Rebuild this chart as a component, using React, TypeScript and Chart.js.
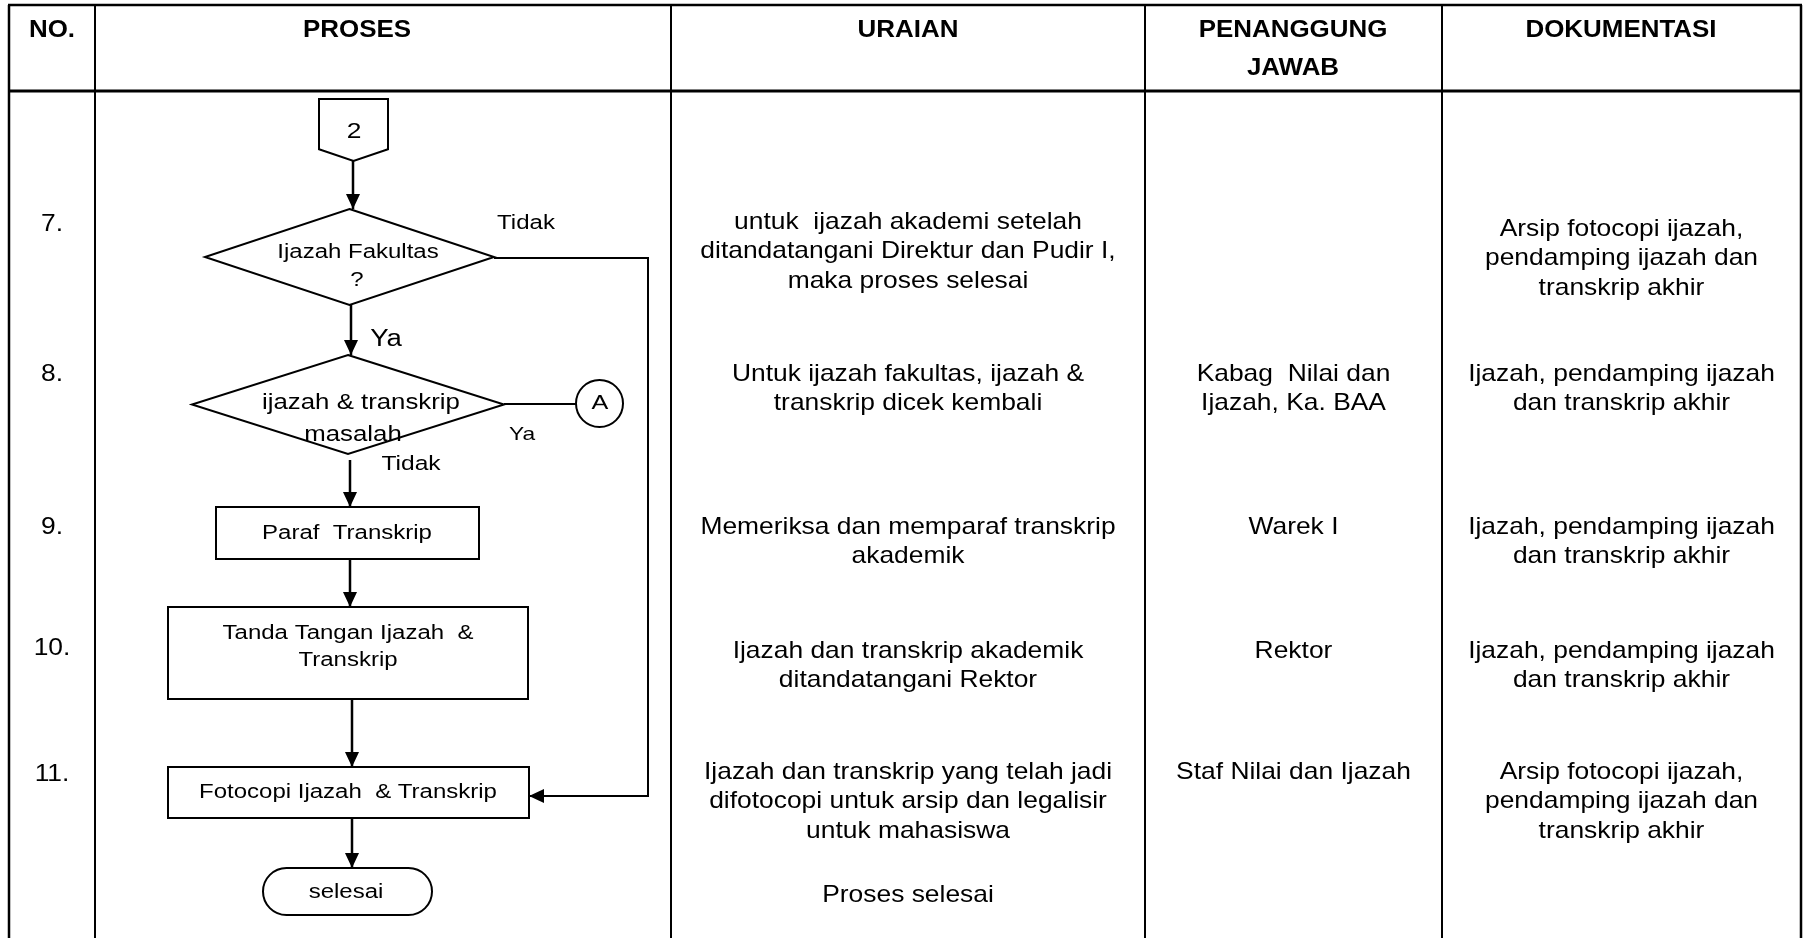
import React, { useEffect, useRef } from "react";
import { Chart, registerables } from "chart.js";

Chart.register(...registerables);

// ---------- page / layout space (layout units) ----------
const PAGE_W = 1804;
const PAGE_H = 938;
const FONT = '"Liberation Sans", Arial, Helvetica, sans-serif';

// ---------- table ----------
const columnEdges = [9, 95, 671, 1145, 1442, 1801];
const headerTop = 5;
const headerBottom = 91;
const tableBottom = 938;

const headerLabels = [["NO."], ["PROSES"], ["URAIAN"], ["PENANGGUNG", "JAWAB"], ["DOKUMENTASI"]];
const headerX = [52, 357, 908, 1293, 1621];
const headerY = 30;
const headerLineGap = 38;
const headerSize = 24;
const headerStretch = 1.08;

const rowNumbers = ["7.", "8.", "9.", "10.", "11."];
const rowNumberY = [224, 374, 527, 648, 774];

const uraianLines = [
  ["untuk  ijazah akademi setelah", "ditandatangani Direktur dan Pudir I,", "maka proses selesai"],
  ["Untuk ijazah fakultas, ijazah &", "transkrip dicek kembali"],
  ["Memeriksa dan memparaf transkrip", "akademik"],
  ["Ijazah dan transkrip akademik", "ditandatangani Rektor"],
  ["Ijazah dan transkrip yang telah jadi", "difotocopi untuk arsip dan legalisir", "untuk mahasiswa"],
  ["Proses selesai"],
];
const uraianY = [222, 374, 527, 651, 772, 895];

const penanggungLines = [
  [] as string[],
  ["Kabag  Nilai dan", "Ijazah, Ka. BAA"],
  ["Warek I"],
  ["Rektor"],
  ["Staf Nilai dan Ijazah"],
];
const penanggungY = [222, 374, 527, 651, 772];

const dokumentasiLines = [
  ["Arsip fotocopi ijazah,", "pendamping ijazah dan", "transkrip akhir"],
  ["Ijazah, pendamping ijazah", "dan transkrip akhir"],
  ["Ijazah, pendamping ijazah", "dan transkrip akhir"],
  ["Ijazah, pendamping ijazah", "dan transkrip akhir"],
  ["Arsip fotocopi ijazah,", "pendamping ijazah dan", "transkrip akhir"],
];
const dokumentasiY = [229, 374, 527, 651, 772];
const bodyLineGap = 29.5;
const bodySize = 24;
const bodyStretch = 1.1;
const flowStretch = 1.2;

// ---------- flowchart ----------
type FlowNode = {
  kind: "offpage" | "diamond" | "circle" | "rect" | "terminator";
  x1: number; y1: number; x2: number; y2: number;
  lines: string[]; tx: number[]; ty: number; gap: number; size: number;
};
const flowNodes: FlowNode[] = [
  { kind: "offpage", x1: 319, y1: 99, x2: 388, y2: 161, lines: ["2"], tx: [354], ty: 132, gap: 0, size: 22 },
  { kind: "diamond", x1: 205, y1: 209, x2: 494, y2: 305, lines: ["Ijazah Fakultas", "?"], tx: [358, 357], ty: 252, gap: 28, size: 20 },
  { kind: "diamond", x1: 192, y1: 355, x2: 504, y2: 454, lines: ["ijazah & transkrip", "masalah"], tx: [361, 353], ty: 403, gap: 32, size: 21.5 },
  { kind: "circle", x1: 576, y1: 380, x2: 623, y2: 427, lines: ["A"], tx: [600], ty: 403, gap: 0, size: 21 },
  { kind: "rect", x1: 216, y1: 507, x2: 479, y2: 559, lines: ["Paraf  Transkrip"], tx: [347], ty: 533, gap: 0, size: 20 },
  { kind: "rect", x1: 168, y1: 607, x2: 528, y2: 699, lines: ["Tanda Tangan Ijazah  &", "Transkrip"], tx: [348, 348], ty: 633, gap: 27, size: 20 },
  { kind: "rect", x1: 168, y1: 767, x2: 529, y2: 818, lines: ["Fotocopi Ijazah  & Transkrip"], tx: [348], ty: 792, gap: 0, size: 20 },
  { kind: "terminator", x1: 263, y1: 868, x2: 432, y2: 915, lines: ["selesai"], tx: [346], ty: 892, gap: 0, size: 20 },
];

type FlowEdge = { points: [number, number][]; arrow: boolean; width: number };
const flowEdges: FlowEdge[] = [
  { points: [[353, 161], [353, 209]], arrow: true, width: 2.5 },
  { points: [[351, 305], [351, 355]], arrow: true, width: 2.5 },
  { points: [[504, 404], [576, 404]], arrow: false, width: 2 },
  { points: [[350, 460], [350, 507]], arrow: true, width: 2.5 },
  { points: [[350, 559], [350, 607]], arrow: true, width: 2.5 },
  { points: [[352, 699], [352, 767]], arrow: true, width: 2.5 },
  { points: [[352, 818], [352, 868]], arrow: true, width: 2.5 },
  { points: [[494, 258], [648, 258], [648, 796], [529, 796]], arrow: true, width: 2 },
];

const flowLabels = [
  { text: "Tidak", x: 526, y: 223, size: 20 },
  { text: "Ya", x: 386, y: 340, size: 23 },
  { text: "Ya", x: 522, y: 435, size: 19 },
  { text: "Tidak", x: 411, y: 464, size: 20.5 },
];

const arrowLen = 15;
const arrowHalf = 7;

// ---------- drawing helpers ----------
function drawText(
  ctx: CanvasRenderingContext2D, text: string, x: number, y: number,
  size: number, stretch: number, bold = false,
) {
  ctx.save();
  ctx.font = `${bold ? "bold " : ""}${size}px ${FONT}`;
  ctx.fillStyle = "#000";
  ctx.textAlign = "center";
  ctx.textBaseline = "middle";
  ctx.translate(x, y);
  ctx.scale(stretch, 1);
  ctx.fillText(text, 0, 0);
  ctx.restore();
}

const flowPlugin = {
  id: "flowTable",
  afterDatasetsDraw(chart: any) {
    const ctx: CanvasRenderingContext2D = chart.ctx;
    const X = (v: number) => chart.scales.x.getPixelForValue(v);
    const Y = (v: number) => chart.scales.y.getPixelForValue(v);
    ctx.save();
    ctx.strokeStyle = "#000";
    ctx.lineCap = "butt";

    // table grid
    columnEdges.forEach((cx, i) => {
      ctx.lineWidth = i === 0 || i === columnEdges.length - 1 ? 2.5 : 2;
      ctx.beginPath();
      ctx.moveTo(X(cx), Y(headerTop));
      ctx.lineTo(X(cx), Y(tableBottom));
      ctx.stroke();
    });
    ctx.lineWidth = 2.5;
    ctx.beginPath();
    ctx.moveTo(X(columnEdges[0]) - 1, Y(headerTop));
    ctx.lineTo(X(columnEdges[columnEdges.length - 1]) + 1, Y(headerTop));
    ctx.stroke();
    ctx.lineWidth = 3;
    ctx.beginPath();
    ctx.moveTo(X(columnEdges[0]) - 1, Y(headerBottom));
    ctx.lineTo(X(columnEdges[columnEdges.length - 1]) + 1, Y(headerBottom));
    ctx.stroke();

    // header
    headerLabels.forEach((lines, i) => {
      lines.forEach((t, j) =>
        drawText(ctx, t, X(headerX[i]), Y(headerY + j * headerLineGap), headerSize, headerStretch, true));
    });

    // body columns
    rowNumbers.forEach((t, i) =>
      drawText(ctx, t, X((columnEdges[0] + columnEdges[1]) / 2), Y(rowNumberY[i]), bodySize, bodyStretch));
    const col = (lines: string[][], ys: number[], c: number) => {
      const cx = (columnEdges[c] + columnEdges[c + 1]) / 2;
      lines.forEach((ls, i) =>
        ls.forEach((t, j) => drawText(ctx, t, X(cx), Y(ys[i] + j * bodyLineGap), bodySize, bodyStretch)));
    };
    col(uraianLines, uraianY, 2);
    col(penanggungLines, penanggungY, 3);
    col(dokumentasiLines, dokumentasiY, 4);

    // flow nodes
    flowNodes.forEach((n) => {
      const l = X(n.x1), r = X(n.x2), t = Y(n.y1), b = Y(n.y2);
      const mx = (l + r) / 2, my = (t + b) / 2;
      ctx.lineWidth = 2;
      ctx.beginPath();
      if (n.kind === "rect") {
        ctx.rect(l, t, r - l, b - t);
      } else if (n.kind === "diamond") {
        ctx.moveTo(mx, t); ctx.lineTo(r, my); ctx.lineTo(mx, b); ctx.lineTo(l, my); ctx.closePath();
      } else if (n.kind === "circle") {
        ctx.arc(mx, my, (r - l) / 2, 0, Math.PI * 2);
      } else if (n.kind === "offpage") {
        const side = b - (b - t) * 0.19;
        ctx.moveTo(l, t); ctx.lineTo(r, t); ctx.lineTo(r, side); ctx.lineTo(mx, b); ctx.lineTo(l, side); ctx.closePath();
      } else if (n.kind === "terminator") {
        const rad = (b - t) / 2;
        ctx.moveTo(l + rad, t); ctx.lineTo(r - rad, t);
        ctx.arc(r - rad, my, rad, -Math.PI / 2, Math.PI / 2);
        ctx.lineTo(l + rad, b);
        ctx.arc(l + rad, my, rad, Math.PI / 2, Math.PI * 1.5);
        ctx.closePath();
      }
      ctx.stroke();
      n.lines.forEach((s, j) =>
        drawText(ctx, s, X(n.tx[j] ?? n.tx[0]), Y(n.ty + j * n.gap), n.size, flowStretch));
    });

    // arrowheads
    flowEdges.forEach((e) => {
      if (!e.arrow) return;
      const [ax, ay] = e.points[e.points.length - 1];
      const [bx, by] = e.points[e.points.length - 2];
      const tx = X(ax), ty = Y(ay), fx = X(bx), fy = Y(by);
      const len = Math.hypot(tx - fx, ty - fy);
      const ux = (tx - fx) / len, uy = (ty - fy) / len;
      const baseX = tx - ux * arrowLen, baseY = ty - uy * arrowLen;
      ctx.fillStyle = "#000";
      ctx.beginPath();
      ctx.moveTo(tx, ty);
      ctx.lineTo(baseX - uy * arrowHalf, baseY + ux * arrowHalf);
      ctx.lineTo(baseX + uy * arrowHalf, baseY - ux * arrowHalf);
      ctx.closePath();
      ctx.fill();
    });

    // labels
    flowLabels.forEach((lb) => drawText(ctx, lb.text, X(lb.x), Y(lb.y), lb.size, flowStretch));
    ctx.restore();
  },
};

export default function App() {
  const ref = useRef<HTMLCanvasElement>(null);
  useEffect(() => {
    if (!ref.current) return;
    const datasets = flowEdges.map((e, i) => ({
      label: `edge-${i}`,
      data: e.points.map(([x, y]) => ({ x, y })),
      showLine: true,
      borderColor: "#000",
      backgroundColor: "#000",
      borderWidth: e.width,
      pointRadius: 0,
      tension: 0,
      clip: false as any,
    }));
    const chart = new Chart(ref.current, {
      type: "scatter",
      data: { datasets },
      options: {
        responsive: false,
        animation: false,
        devicePixelRatio: 1,
        events: [],
        layout: { padding: 0 },
        plugins: { legend: { display: false }, tooltip: { enabled: false }, title: { display: false } },
        scales: {
          x: { type: "linear", min: 0, max: PAGE_W, display: false },
          y: { type: "linear", min: 0, max: PAGE_H, reverse: true, display: false },
        },
      },
      plugins: [flowPlugin],
    });
    return () => chart.destroy();
  }, []);
  return (
    <div style={{ position: "fixed", left: 0, top: 0, width: PAGE_W, height: PAGE_H, background: "#fff" }}>
      <canvas ref={ref} width={PAGE_W} height={PAGE_H} style={{ display: "block", width: PAGE_W, height: PAGE_H }} />
    </div>
  );
}
